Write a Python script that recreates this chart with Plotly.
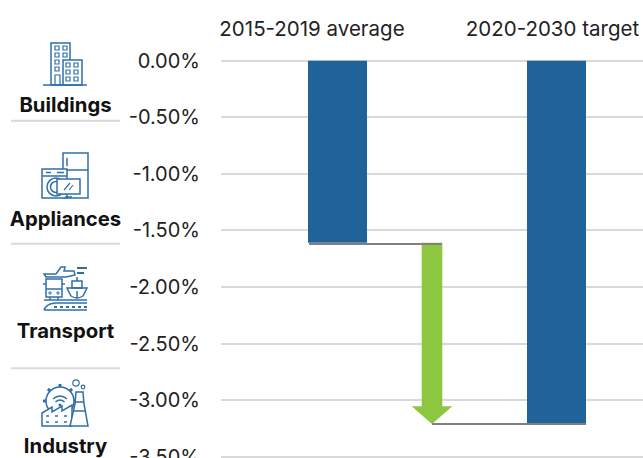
import plotly.graph_objects as go

W, H = 643, 458
categories = ["2015-2019 average", "2020-2030 target"]
values = [-1.61, -3.21]
y_ticks = [0, -0.5, -1.0, -1.5, -2.0, -2.5, -3.0, -3.5]
y_labels = ["0.00%", "-0.50%", "-1.00%", "-1.50%", "-2.00%", "-2.50%", "-3.00%", "-3.50%"]
sectors = ["Buildings", "Appliances", "Transport", "Industry"]

BLUE = "#20639b"
ICON = "#2f6fa8"
GREEN = "#8dc63f"
GREY = "#808080"
FONT = "Inter"

L, R = 221, 643
Y0_PX, PX_PER_UNIT = 60.7, 113.14
PAD = 0.01  # slight overshoot so the end gridlines are drawn
T, B = Y0_PX - PAD * PX_PER_UNIT, Y0_PX + (3.5 + PAD) * PX_PER_UNIT
CX0, STEP = 337.5, 219


def px(x):
    return x / W


def py(y):
    return 1 - y / H


fig = go.Figure()
fig.add_bar(x=[0, 1], y=values, width=59 / STEP, marker=dict(color=BLUE, line_width=0), showlegend=False)

# text laid out on a full-page pixel overlay
fig.add_scatter(x=[65.5, 65.5, 65.5, 65.5], y=[107, 221, 333, 448], text=[f"<b>{s}</b>" for s in sectors],
                mode="text", xaxis="x2", yaxis="y2", cliponaxis=False, showlegend=False, hoverinfo="skip",
                textfont=dict(family=FONT, size=20.3, color="#111111"), textposition="middle center")
fig.add_scatter(x=[312, 552.5], y=[31, 31], text=categories, mode="text", xaxis="x2", yaxis="y2",
                cliponaxis=False, showlegend=False, hoverinfo="skip",
                textfont=dict(family=FONT, size=20.5, color="#222222"), textposition="middle center")

shapes = []


def pline(x0, y0, x1, y1, color=ICON, width=1.5):
    shapes.append(dict(type="line", xref="x2", yref="y2", x0=x0, x1=x1, y0=y0, y1=y1,
                       line=dict(color=color, width=width), layer="above"))


def prect(x0, y0, x1, y1, color=ICON, width=1.5, fill=None):
    shapes.append(dict(type="rect", xref="x2", yref="y2", x0=x0, x1=x1, y0=y0, y1=y1,
                       line=dict(color=color, width=width), fillcolor=fill or "rgba(0,0,0,0)", layer="above"))


def pcircle(cx, cy, r, color=ICON, width=1.5):
    shapes.append(dict(type="circle", xref="x2", yref="y2", x0=cx - r, x1=cx + r, y0=cy - r, y1=cy + r,
                       line=dict(color=color, width=width), layer="above"))


def ppath(d, fill=None, width=1.5):
    shapes.append(dict(type="path", xref="x2", yref="y2", path=d, line=dict(color=ICON, width=width),
                       fillcolor=fill or "rgba(0,0,0,0)", layer="above"))


# connector lines and arrow, tied to the data values
ax = 0.4315
sw, hw, head_h = 0.047, 0.0927, 0.155
head = values[1] + head_h
shapes.append(dict(type="path", path=(
    f"M {ax-sw} {values[0]} L {ax+sw} {values[0]} L {ax+sw} {head} L {ax+hw} {head} "
    f"L {ax} {values[1]} L {ax-hw} {head} L {ax-sw} {head} Z"),
    fillcolor=GREEN, line=dict(width=0), layer="above"))
shapes.append(dict(type="line", x0=-0.13, x1=0.477, y0=values[0] - 0.01, y1=values[0] - 0.01,
                   line=dict(color=GREY, width=2), layer="above"))
shapes.append(dict(type="line", x0=ax, x1=1.135, y0=values[1], y1=values[1],
                   line=dict(color=GREY, width=2), layer="above"))

# separators
for y in [120.7, 243.7, 368.3]:
    pline(11, y, 120, y, color="#d9d9d9", width=2)

# Buildings icon
prect(51, 43, 70, 85)
prect(63, 60, 82, 85, fill="white")
pline(43, 85, 87, 85)
for yy in [46, 53, 60, 67]:
    prect(55, yy, 59, yy + 4, width=1.2)
for yy in [46, 53]:
    prect(63, yy, 67, yy + 4, width=1.2)
for yy in [63, 70, 77]:
    prect(66, yy, 70, yy + 4, width=1.2)
    prect(74, yy, 78, yy + 4, width=1.2)
prect(55, 75, 60, 85, width=1.2)

# Appliances icon
prect(63, 153, 88, 198)
pline(63, 170, 88, 170)
pline(67, 158, 67, 166)
prect(42, 169, 67, 198, fill="white")
pline(42, 176, 67, 176)
pline(46, 172.5, 51, 172.5)
pline(57, 172.5, 64, 172.5)
pcircle(56, 187, 9)
pcircle(56, 187, 5.5)
prect(57, 179, 80, 194, fill="white")
pline(64, 190, 70, 183, width=1.2)
pline(69, 190, 73, 185, width=1.2)
pline(65, 197, 72, 197)

# Transport icon
ppath("M 44 274 L 56 274 L 61 267 L 65 267 L 64 271 L 74 271 L 75 275 L 66 277 L 46 277 Z")
pline(77, 268, 87, 268, width=2)
pline(77, 273, 84, 273, width=2)
prect(46, 279, 62, 297)
pline(46, 289, 62, 289)
pline(43, 284, 46, 284)
pline(62, 284, 65, 284)
pcircle(50, 293, 1.2, width=1)
pcircle(58, 293, 1.2, width=1)
pline(50, 297, 50, 300)
pline(58, 297, 58, 300)
ppath("M 67 288 L 87 288 L 83 296 Q 77 300 71 296 Z")
prect(72, 281, 82, 288)
pline(77, 277, 77, 281)
pline(77, 291, 77, 298)
pline(44, 300, 87, 300)
ppath("M 44 310 Q 46 304 55 303 L 87 303 M 44 310 L 87 310")
shapes.append(dict(type="line", xref="x2", yref="y2", x0=54, x1=87, y0=307, y1=307,
                   line=dict(color=ICON, width=2, dash="dot"), layer="above"))

# Industry icon
pcircle(60, 401, 14)
for dx, dy in [(0, -1), (-0.71, -0.71), (0.71, -0.71), (-1, 0), (1, 0)]:
    pline(60 + dx * 14, 401 + dy * 14, 60 + dx * 17, 401 + dy * 17, width=3)
ppath("M 53 399 Q 60 393 67 399 M 55.5 402 Q 60 398 64.5 402")
pcircle(60, 405, 0.8, width=1.5)
pcircle(76, 383, 3.2, width=1.2)
pcircle(83, 387, 1.8, width=1.2)
ppath("M 42 426 L 42 413 L 52 407 L 52 412 L 62 406 L 62 411 L 72 405 L 72 426 Z", fill="white")
for xx in [46, 55, 64]:
    for yy in [416, 422]:
        pline(xx, yy, xx + 3, yy)
ppath("M 76 392 L 83 392 L 84 404 L 88 426 L 70 426 L 75 404 Z", fill="white")
pline(75, 402, 84, 402)
pline(74, 411, 85, 411)

fig.update_layout(
    width=W, height=H, autosize=False,
    margin=dict(l=0, r=0, t=0, b=0, pad=0),
    paper_bgcolor="white", plot_bgcolor="rgba(0,0,0,0)",
    showlegend=False, shapes=shapes,
    xaxis=dict(domain=[px(L), px(R)], range=[(L - CX0) / STEP, (R - CX0) / STEP], visible=False, fixedrange=True,
               automargin=False),
    yaxis=dict(domain=[py(B), py(T)], range=[y_ticks[-1] - PAD, PAD], tickvals=y_ticks, ticktext=y_labels,
               showline=False, zeroline=False, gridcolor="#d9d9d9", gridwidth=2, ticks="", ticklen=0,
               ticklabelstandoff=20, ticklabeloverflow="allow",
               tickfont=dict(family=FONT, size=20, color="#222222"), fixedrange=True, automargin=False),
    xaxis2=dict(domain=[0, 1], range=[0, W], visible=False, fixedrange=True, anchor="y2", automargin=False),
    yaxis2=dict(domain=[0, 1], range=[H, 0], visible=False, fixedrange=True, anchor="x2", automargin=False),
)
fig.write_html("out.html", config=dict(displayModeBar=False), default_width=f"{W}px", default_height=f"{H}px",
               post_script="document.body.style.margin='0';document.documentElement.style.overflow='hidden';")
